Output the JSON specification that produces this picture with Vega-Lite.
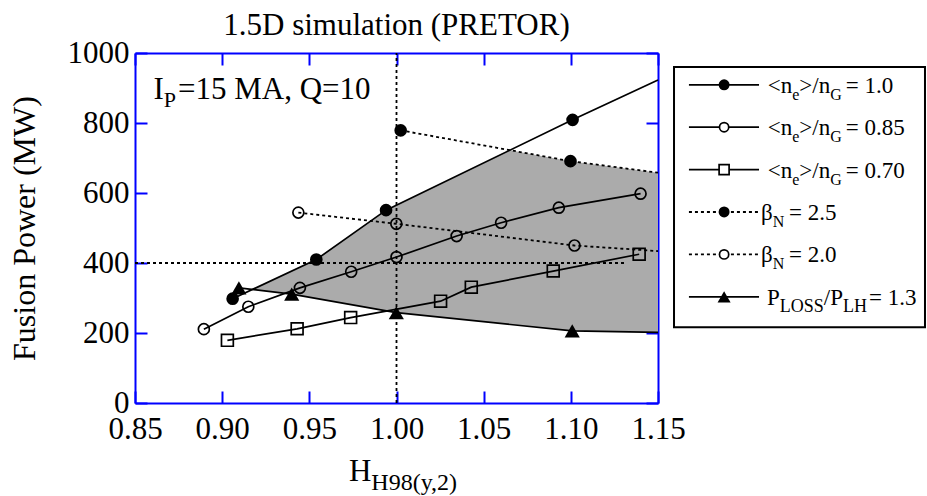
{
  "$schema": "https://vega.github.io/schema/vega-lite/v6.json",
  "background": "white",
  "padding": {"left": 8, "top": 10, "right": 0, "bottom": 0},
  "config": {
    "font": "Liberation Serif",
    "view": {"stroke": null},
    "axis": {
      "labelFont": "Liberation Serif", "labelFontSize": 31, "labelColor": "black",
      "titleFont": "Liberation Serif", "titleFontSize": 32, "titleFontWeight": "normal", "titleColor": "black",
      "domainColor": "#0000ff", "domainWidth": 2, "tickColor": "#0000ff", "tickWidth": 2, "tickSize": -12,
      "grid": false, "labelFlush": false, "labelOverlap": false
    }
  },
  "datasets": {
    "series": [
      {"k": "n10", "x": 0.906, "y": 298, "m": 1},
      {"k": "n10", "x": 0.954, "y": 410, "m": 1},
      {"k": "n10", "x": 0.994, "y": 551, "m": 1},
      {"k": "n10", "x": 1.101, "y": 809, "m": 1},
      {"k": "n10", "x": 1.15, "y": 923, "m": 0},
      {"k": "n085", "x": 0.8895, "y": 211, "m": 1},
      {"k": "n085", "x": 0.915, "y": 275, "m": 1},
      {"k": "n085", "x": 0.9446, "y": 329, "m": 1},
      {"k": "n085", "x": 0.974, "y": 375, "m": 1},
      {"k": "n085", "x": 1.0, "y": 417, "m": 1},
      {"k": "n085", "x": 1.0345, "y": 477, "m": 1},
      {"k": "n085", "x": 1.06, "y": 515, "m": 1},
      {"k": "n085", "x": 1.0931, "y": 558, "m": 1},
      {"k": "n085", "x": 1.14, "y": 598, "m": 1},
      {"k": "n070", "x": 0.903, "y": 179, "m": 1},
      {"k": "n070", "x": 0.943, "y": 212, "m": 1},
      {"k": "n070", "x": 0.9737, "y": 244, "m": 1},
      {"k": "n070", "x": 1.0253, "y": 291, "m": 1},
      {"k": "n070", "x": 1.0429, "y": 331, "m": 1},
      {"k": "n070", "x": 1.0899, "y": 377, "m": 1},
      {"k": "n070", "x": 1.1392, "y": 425, "m": 1},
      {"k": "p13", "x": 0.9096, "y": 329, "m": 1},
      {"k": "p13", "x": 0.9399, "y": 311, "m": 1},
      {"k": "p13", "x": 0.9999, "y": 258, "m": 1},
      {"k": "p13", "x": 1.1008, "y": 206, "m": 1},
      {"k": "p13", "x": 1.15, "y": 202, "m": 0},
      {"k": "b25", "x": 1.0024, "y": 779, "m": 1},
      {"k": "b25", "x": 1.0998, "y": 691, "m": 1},
      {"k": "b25", "x": 1.15, "y": 658, "m": 0},
      {"k": "b20", "x": 0.9437, "y": 544, "m": 1},
      {"k": "b20", "x": 0.9999, "y": 512, "m": 1},
      {"k": "b20", "x": 1.1021, "y": 450, "m": 1},
      {"k": "b20", "x": 1.15, "y": 434, "m": 0}
    ],
    "band": [
      {"x": 0.9173, "lo": 324.4, "hi": 324.4},
      {"x": 0.9399, "lo": 311, "hi": 377.1},
      {"x": 0.954, "lo": 298.5, "hi": 410},
      {"x": 0.994, "lo": 263.2, "hi": 551},
      {"x": 0.9999, "lo": 258, "hi": 565.2},
      {"x": 1.0651, "lo": 224.4, "hi": 722.4},
      {"x": 1.0998, "lo": 206.5, "hi": 691},
      {"x": 1.1008, "lo": 206, "hi": 690.3},
      {"x": 1.15, "lo": 202, "hi": 658}
    ],
    "refs": [
      {"x": 0.85, "x2": 1.132, "y": 400, "y2": 400},
      {"x": 1.0, "x2": 1.0, "y": 0, "y2": 1000}
    ],
    "legend": [
      {"row": 1, "k": "n10", "val": "= 1.0"},
      {"row": 2, "k": "n085", "val": "= 0.85"},
      {"row": 3, "k": "n070", "val": "= 0.70"},
      {"row": 4, "k": "b25", "val": "= 2.5"},
      {"row": 5, "k": "b20", "val": "= 2.0"},
      {"row": 6, "k": "p13", "val": "= 1.3"}
    ]
  },
  "hconcat": [
    {
      "width": 523,
      "height": 350,
      "title": {"text": "1.5D simulation (PRETOR)", "font": "Liberation Serif", "fontSize": 31, "fontWeight": "normal", "color": "black", "offset": -5},
      "layer": [
        {
          "data": {"name": "band"},
          "mark": {"type": "area", "color": "#ababab", "opacity": 1},
          "encoding": {
            "x": {"field": "x", "type": "quantitative", "scale": {"domain": [0.85, 1.15], "nice": false, "zero": false},
                  "axis": {"orient": "bottom", "values": [0.85, 0.9, 0.95, 1.0, 1.05, 1.1, 1.15], "format": ".2f", "title": null, "labelPadding": 23}},
            "y": {"field": "lo", "type": "quantitative", "scale": {"domain": [0, 1000], "nice": false, "zero": false},
                  "axis": {"orient": "left", "values": [0, 200, 400, 600, 800, 1000], "format": "d", "title": "Fusion Power (MW)", "labelPadding": 18, "titlePadding": 26}},
            "y2": {"field": "hi"}
          }
        },
        {
          "data": {"name": "refs"},
          "mark": {"type": "rule", "color": "black", "strokeDash": [3, 3], "strokeWidth": 1.8},
          "encoding": {
            "x": {"field": "x", "type": "quantitative", "axis": {"orient": "top", "labels": false, "values": [0.85, 0.9, 0.95, 1.0, 1.05, 1.1, 1.15], "title": null}},
            "x2": {"field": "x2"},
            "y": {"field": "y", "type": "quantitative", "axis": {"orient": "right", "labels": false, "values": [0, 200, 400, 600, 800, 1000], "title": null}},
            "y2": {"field": "y2"}
          }
        },
        {
          "data": {"name": "series"},
          "transform": [{"filter": {"field": "k", "oneOf": ["n10", "n085", "n070", "p13"]}}],
          "mark": {"type": "line", "color": "black", "strokeWidth": 1.7},
          "encoding": {
            "x": {"field": "x", "type": "quantitative", "axis": null},
            "y": {"field": "y", "type": "quantitative", "axis": null},
            "detail": {"field": "k"}
          }
        },
        {
          "data": {"name": "series"},
          "transform": [{"filter": {"field": "k", "oneOf": ["b25", "b20"]}}],
          "mark": {"type": "line", "color": "black", "strokeWidth": 1.8, "strokeDash": [3, 3]},
          "encoding": {
            "x": {"field": "x", "type": "quantitative", "axis": null},
            "y": {"field": "y", "type": "quantitative", "axis": null},
            "detail": {"field": "k"}
          }
        },
        {
          "data": {"name": "series"},
          "transform": [{"filter": "datum.m == 1"}, {"filter": {"field": "k", "oneOf": ["n10", "b25"]}}],
          "mark": {"type": "point", "shape": "circle", "filled": true, "color": "black", "size": 160, "opacity": 1},
          "encoding": {
            "x": {"field": "x", "type": "quantitative", "axis": null},
            "y": {"field": "y", "type": "quantitative", "axis": null}
          }
        },
        {
          "data": {"name": "series"},
          "transform": [{"filter": "datum.m == 1"}, {"filter": {"field": "k", "oneOf": ["p13"]}}],
          "mark": {"type": "point", "shape": "triangle-up", "filled": true, "color": "black", "size": 230, "opacity": 1},
          "encoding": {
            "x": {"field": "x", "type": "quantitative", "axis": null},
            "y": {"field": "y", "type": "quantitative", "axis": null}
          }
        },
        {
          "data": {"name": "series"},
          "transform": [{"filter": "datum.m == 1"}, {"filter": {"field": "k", "oneOf": ["n085", "b20"]}}],
          "mark": {"type": "point", "shape": "circle", "filled": false, "color": "black", "strokeWidth": 1.7, "size": 120, "opacity": 1},
          "encoding": {
            "x": {"field": "x", "type": "quantitative", "axis": null},
            "y": {"field": "y", "type": "quantitative", "axis": null}
          }
        },
        {
          "data": {"name": "series"},
          "transform": [{"filter": "datum.m == 1"}, {"filter": {"field": "k", "oneOf": ["n070"]}}],
          "mark": {"type": "point", "shape": "square", "filled": false, "color": "black", "strokeWidth": 1.7, "size": 140, "opacity": 1},
          "encoding": {
            "x": {"field": "x", "type": "quantitative", "axis": null},
            "y": {"field": "y", "type": "quantitative", "axis": null}
          }
        },
        {
          "data": {"values": [{}]},
          "mark": {"type": "text", "align": "left", "baseline": "alphabetic", "fontSize": 31, "color": "black"},
          "encoding": {
            "x": {"datum": 0.8606, "type": "quantitative", "axis": null},
            "y": {"datum": 868, "type": "quantitative", "axis": null},
            "text": {"value": "I"}
          }
        },
        {
          "data": {"values": [{}]},
          "mark": {"type": "text", "align": "left", "baseline": "alphabetic", "fontSize": 22, "color": "black", "dx": 10.3, "dy": 8},
          "encoding": {
            "x": {"datum": 0.8606, "type": "quantitative", "axis": null},
            "y": {"datum": 868, "type": "quantitative", "axis": null},
            "text": {"value": "P"}
          }
        },
        {
          "data": {"values": [{}]},
          "mark": {"type": "text", "align": "left", "baseline": "alphabetic", "fontSize": 31, "color": "black", "dx": 24.5},
          "encoding": {
            "x": {"datum": 0.8606, "type": "quantitative", "axis": null},
            "y": {"datum": 868, "type": "quantitative", "axis": null},
            "text": {"value": "=15 MA, Q=10"}
          }
        },
        {
          "data": {"values": [{}]},
          "mark": {"type": "text", "align": "left", "baseline": "alphabetic", "fontSize": 31, "color": "black"},
          "encoding": {
            "x": {"datum": 0.9727, "type": "quantitative", "axis": null},
            "y": {"datum": -222.9, "type": "quantitative", "axis": null},
            "text": {"value": "H"}
          }
        },
        {
          "data": {"values": [{}]},
          "mark": {"type": "text", "align": "left", "baseline": "alphabetic", "fontSize": 24, "color": "black", "dx": 22.4, "dy": 9},
          "encoding": {
            "x": {"datum": 0.9727, "type": "quantitative", "axis": null},
            "y": {"datum": -222.9, "type": "quantitative", "axis": null},
            "text": {"value": "H98(y,2)"}
          }
        }
      ],
      "resolve": {"axis": {"x": "independent", "y": "independent"}}
    },
    {
      "width": 253,
      "height": 275,
      "layer": [
        {
          "data": {"values": [{"box": "legend"}]},
          "mark": {"type": "rect", "fill": "white", "fillOpacity": 0, "stroke": "black", "strokeWidth": 2, "opacity": 1},
          "encoding": {
            "x": {"datum": 0.004, "type": "quantitative", "scale": {"domain": [0, 1], "nice": false, "zero": false}, "axis": null},
            "x2": {"datum": 0.996},
            "y": {"datum": 0.58, "type": "quantitative", "scale": {"domain": [0.25, 6.736], "nice": false, "zero": false, "reverse": true}, "axis": null},
            "y2": {"datum": 6.72}
          }
        },
        {
          "data": {"name": "legend"},
          "encoding": {
            "x": {"datum": 0.348, "type": "quantitative", "scale": {"domain": [0, 1], "nice": false, "zero": false}, "axis": null},
            "y": {"field": "row", "type": "quantitative", "scale": {"domain": [0.25, 6.736], "nice": false, "zero": false, "reverse": true}, "axis": null}
          },
          "layer": [
            {
              "transform": [{"filter": {"field": "k", "oneOf": ["n10", "n085", "n070", "p13"]}}],
              "mark": {"type": "rule", "color": "black", "strokeWidth": 1.7},
              "encoding": {"x": {"datum": 0.063, "type": "quantitative"}, "x2": {"datum": 0.34}}
            },
            {
              "transform": [{"filter": {"field": "k", "oneOf": ["b25", "b20"]}}],
              "mark": {"type": "rule", "color": "black", "strokeWidth": 1.8, "strokeDash": [3, 3]},
              "encoding": {"x": {"datum": 0.063, "type": "quantitative"}, "x2": {"datum": 0.34}}
            },
            {
              "transform": [{"filter": {"field": "k", "oneOf": ["n10", "b25"]}}],
              "mark": {"type": "point", "shape": "circle", "filled": true, "color": "black", "size": 120, "opacity": 1},
              "encoding": {"x": {"datum": 0.202, "type": "quantitative"}}
            },
            {
              "transform": [{"filter": {"field": "k", "oneOf": ["p13"]}}],
              "mark": {"type": "point", "shape": "triangle-up", "filled": true, "color": "black", "size": 170, "opacity": 1},
              "encoding": {"x": {"datum": 0.202, "type": "quantitative"}}
            },
            {
              "transform": [{"filter": {"field": "k", "oneOf": ["n085", "b20"]}}],
              "mark": {"type": "point", "shape": "circle", "filled": false, "fill": "white", "color": "black", "strokeWidth": 1.7, "size": 85, "opacity": 1},
              "encoding": {"x": {"datum": 0.202, "type": "quantitative"}}
            },
            {
              "transform": [{"filter": {"field": "k", "oneOf": ["n070"]}}],
              "mark": {"type": "point", "shape": "square", "filled": false, "fill": "white", "color": "black", "strokeWidth": 1.7, "size": 100, "opacity": 1},
              "encoding": {"x": {"datum": 0.202, "type": "quantitative"}}
            },
            {
              "transform": [{"filter": {"field": "k", "oneOf": ["n10", "n085", "n070"]}}],
              "mark": {"type": "text", "align": "left", "baseline": "alphabetic", "fontSize": 23, "color": "black", "dx": 6.7, "dy": 8},
              "encoding": {"text": {"value": "<n"}}
            },
            {
              "transform": [{"filter": {"field": "k", "oneOf": ["n10", "n085", "n070"]}}],
              "mark": {"type": "text", "align": "left", "baseline": "alphabetic", "fontSize": 16, "color": "black", "dx": 31.2, "dy": 15},
              "encoding": {"text": {"value": "e"}}
            },
            {
              "transform": [{"filter": {"field": "k", "oneOf": ["n10", "n085", "n070"]}}],
              "mark": {"type": "text", "align": "left", "baseline": "alphabetic", "fontSize": 23, "color": "black", "dx": 38.3, "dy": 8},
              "encoding": {"text": {"value": ">/n"}}
            },
            {
              "transform": [{"filter": {"field": "k", "oneOf": ["n10", "n085", "n070"]}}],
              "mark": {"type": "text", "align": "left", "baseline": "alphabetic", "fontSize": 16, "color": "black", "dx": 69.2, "dy": 15},
              "encoding": {"text": {"value": "G"}}
            },
            {
              "transform": [{"filter": {"field": "k", "oneOf": ["n10", "n085", "n070"]}}],
              "mark": {"type": "text", "align": "left", "baseline": "alphabetic", "fontSize": 23, "color": "black", "dx": 84.7, "dy": 8},
              "encoding": {"text": {"field": "val"}}
            },
            {
              "transform": [{"filter": {"field": "k", "oneOf": ["b25", "b20"]}}],
              "mark": {"type": "text", "align": "left", "baseline": "alphabetic", "fontSize": 23, "color": "black", "dx": 0, "dy": 8},
              "encoding": {"text": {"value": "β"}}
            },
            {
              "transform": [{"filter": {"field": "k", "oneOf": ["b25", "b20"]}}],
              "mark": {"type": "text", "align": "left", "baseline": "alphabetic", "fontSize": 16, "color": "black", "dx": 11.7, "dy": 15},
              "encoding": {"text": {"value": "N"}}
            },
            {
              "transform": [{"filter": {"field": "k", "oneOf": ["b25", "b20"]}}],
              "mark": {"type": "text", "align": "left", "baseline": "alphabetic", "fontSize": 23, "color": "black", "dx": 28, "dy": 8},
              "encoding": {"text": {"field": "val"}}
            },
            {
              "transform": [{"filter": {"field": "k", "oneOf": ["p13"]}}],
              "mark": {"type": "text", "align": "left", "baseline": "alphabetic", "fontSize": 23, "color": "black", "dx": 6, "dy": 8},
              "encoding": {"text": {"value": "P"}}
            },
            {
              "transform": [{"filter": {"field": "k", "oneOf": ["p13"]}}],
              "mark": {"type": "text", "align": "left", "baseline": "alphabetic", "fontSize": 18, "color": "black", "dx": 18.8, "dy": 15},
              "encoding": {"text": {"value": "LOSS"}}
            },
            {
              "transform": [{"filter": {"field": "k", "oneOf": ["p13"]}}],
              "mark": {"type": "text", "align": "left", "baseline": "alphabetic", "fontSize": 23, "color": "black", "dx": 62.8, "dy": 8},
              "encoding": {"text": {"value": "/P"}}
            },
            {
              "transform": [{"filter": {"field": "k", "oneOf": ["p13"]}}],
              "mark": {"type": "text", "align": "left", "baseline": "alphabetic", "fontSize": 18, "color": "black", "dx": 82, "dy": 15},
              "encoding": {"text": {"value": "LH"}}
            },
            {
              "transform": [{"filter": {"field": "k", "oneOf": ["p13"]}}],
              "mark": {"type": "text", "align": "left", "baseline": "alphabetic", "fontSize": 23, "color": "black", "dx": 108, "dy": 8},
              "encoding": {"text": {"field": "val"}}
            }
          ]
        }
      ]
    }
  ],
  "spacing": 15,
  "bounds": "flush",
  "resolve": {"scale": {"x": "independent", "y": "independent"}}
}
